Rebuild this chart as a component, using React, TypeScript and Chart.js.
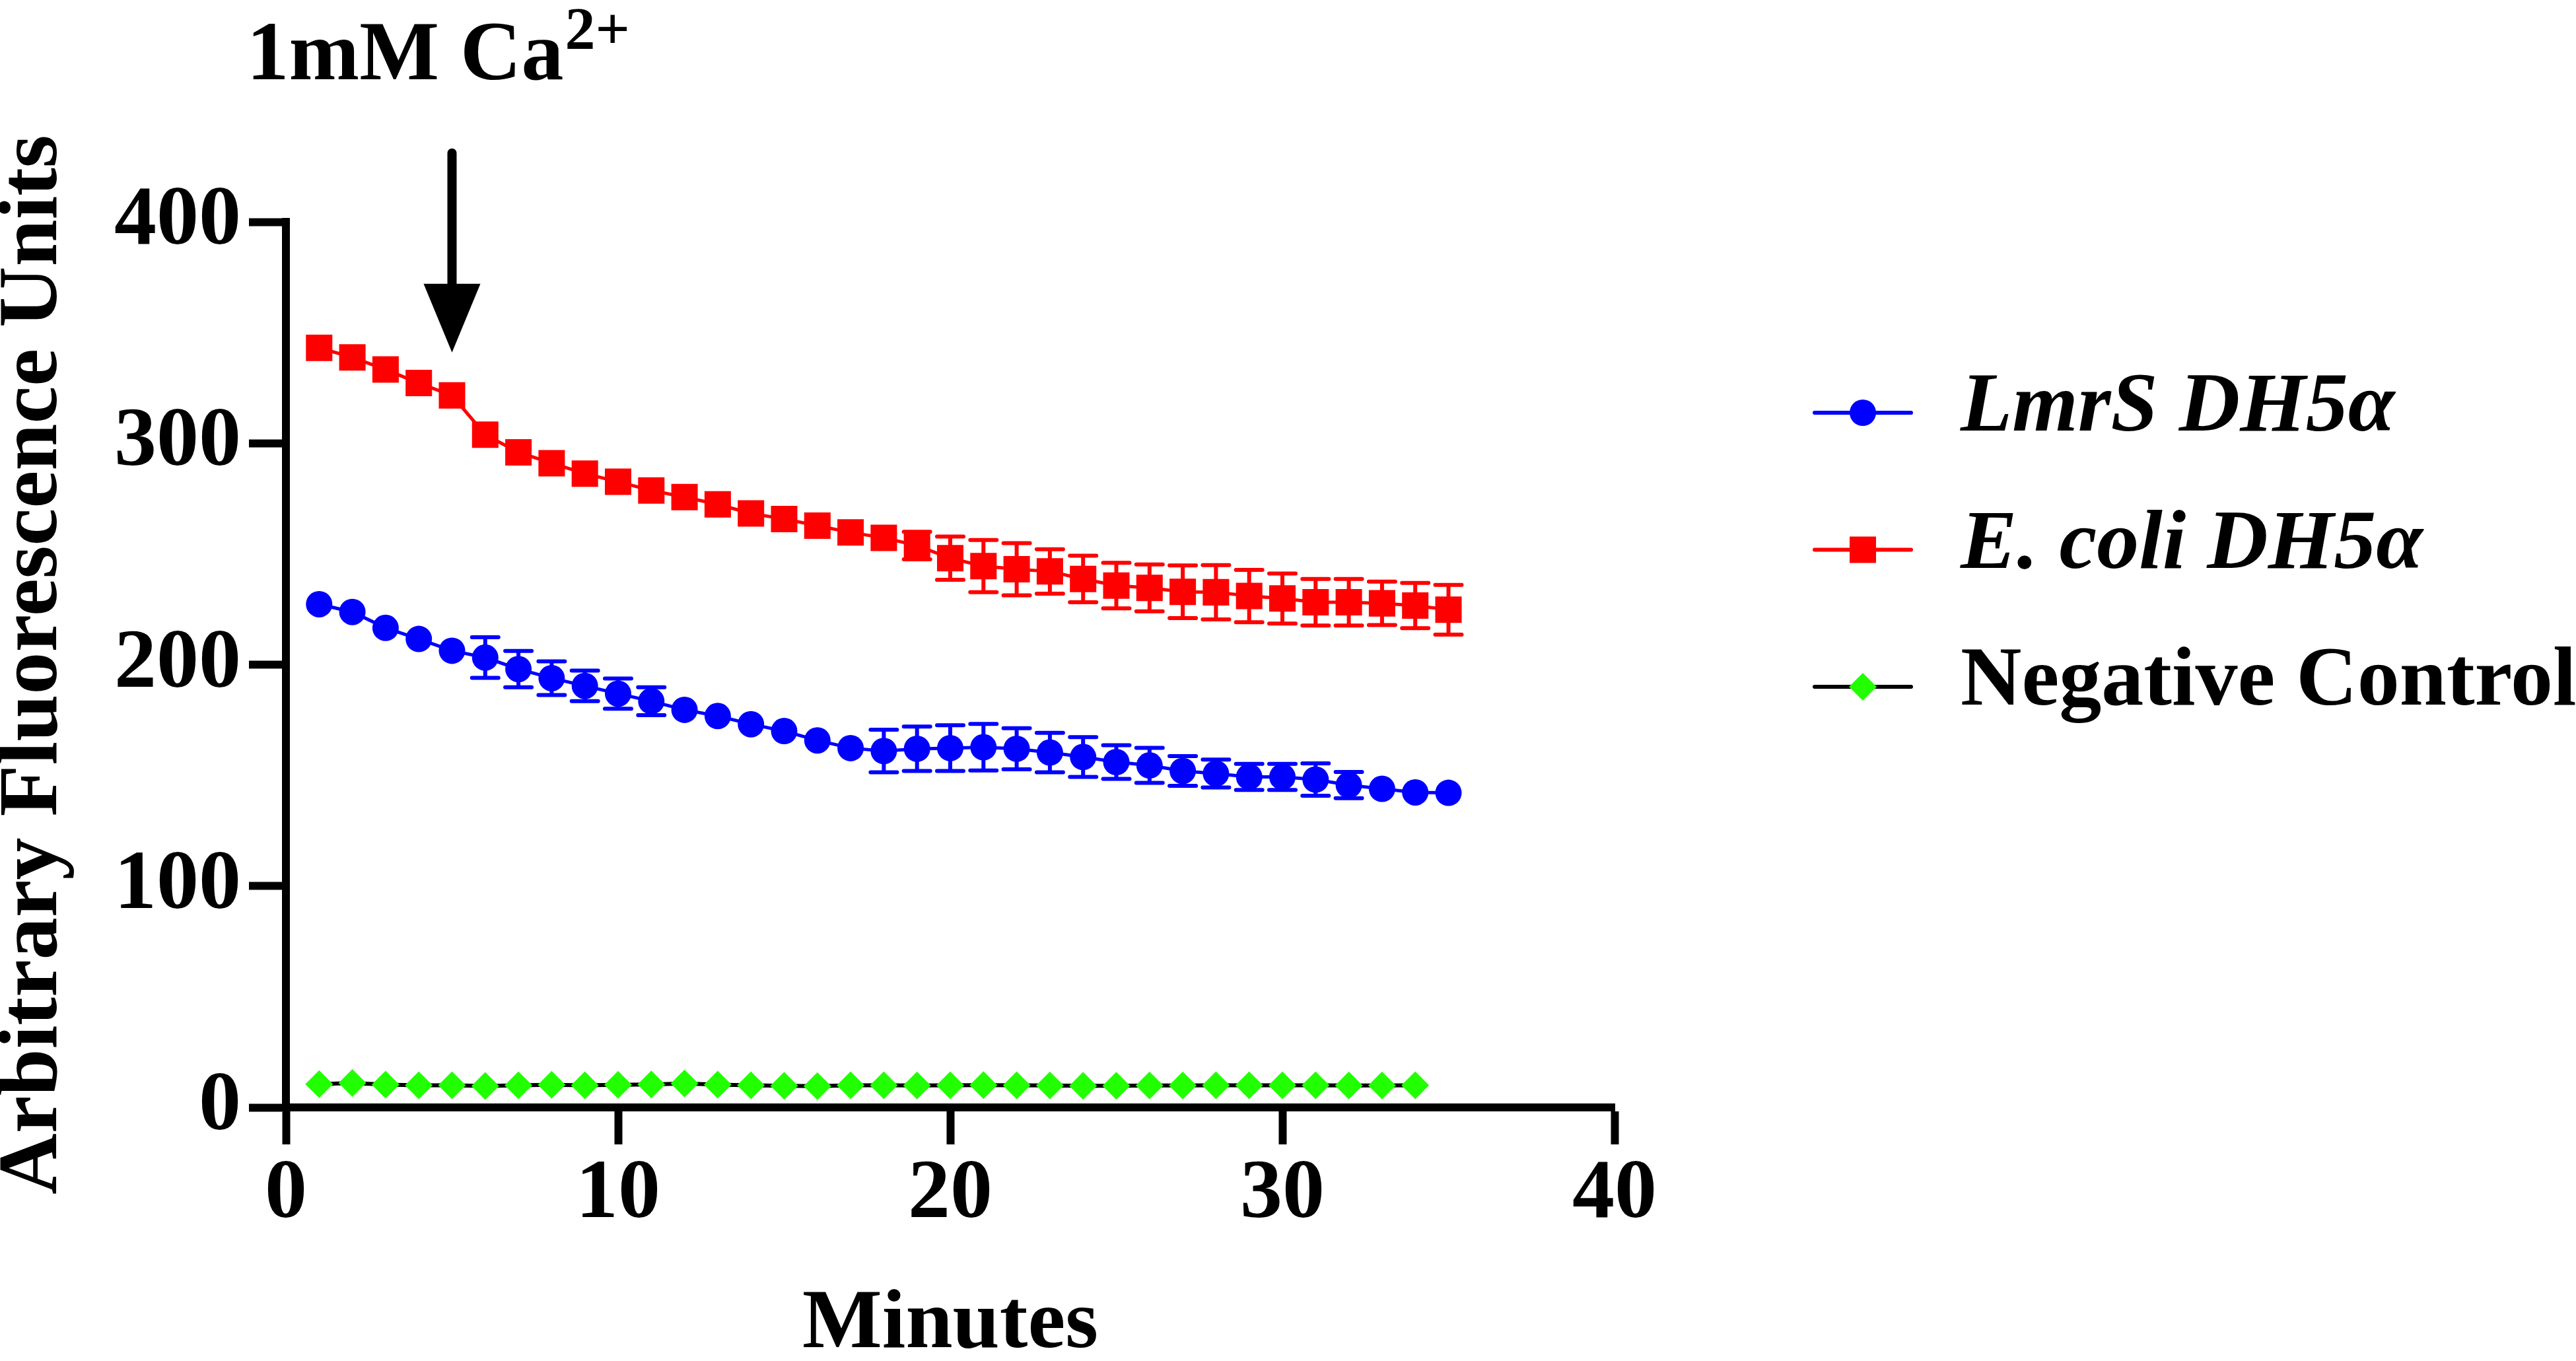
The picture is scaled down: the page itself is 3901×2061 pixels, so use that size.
import React, { useEffect, useRef } from 'react';
import { Chart, registerables } from 'chart.js';
import { drawPoint } from 'chart.js/helpers';

Chart.register(...registerables);

const SERIF = '"Liberation Serif", "Times New Roman", serif';

// minutes after start of the read
const minutes = [
  1, 2, 3, 4, 5, 6, 7, 8, 9, 10, 11, 12, 13, 14, 15, 16, 17, 18,
  19, 20, 21, 22, 23, 24, 25, 26, 27, 28, 29, 30, 31, 32, 33, 34, 35,
];

const lmrsMean = [
  227.3, 223.8, 216.6, 211.6, 206.3, 203.2, 198.0, 193.9, 190.4, 186.9, 183.5, 179.6,
  176.8, 173.1, 170.0, 165.8, 162.3, 161.0, 162.0, 162.3, 162.7, 162.0, 160.3, 158.3,
  156.0, 154.5, 152.0, 150.8, 149.3, 149.3, 148.1, 145.6, 143.9, 142.3, 142.1,
];
// 0 = bar hidden behind the marker
const lmrsErr = [
  0, 0, 0, 0, 0, 9.2, 8.2, 7.6, 6.9, 6.8, 6.3, 0,
  0, 0, 0, 0, 0, 9.6, 10.0, 10.3, 10.5, 9.3, 8.9, 9.0,
  7.6, 7.9, 6.7, 6.3, 5.9, 5.9, 7.3, 5.9, 0, 0, 0,
];

const ecoliMean = [
  343.1, 338.8, 333.3, 327.2, 321.6, 303.9, 295.9, 291.0, 286.3, 282.6, 278.7, 275.7,
  272.4, 268.3, 265.8, 262.8, 259.7, 257.3, 253.8, 248.1, 244.5, 243.1, 242.1, 238.7,
  235.7, 234.7, 232.9, 232.7, 231.0, 229.9, 228.2, 228.2, 227.7, 226.7, 224.8,
];
const ecoliErr = [
  0, 0, 0, 0, 0, 0, 0, 0, 0, 0, 0, 0,
  0, 0, 0, 0, 0, 0, 6.2, 9.8, 11.8, 11.8, 10.0, 10.5,
  10.3, 10.6, 11.9, 12.3, 11.8, 11.3, 10.5, 10.5, 9.8, 10.2, 11.2,
];

// negative control read stops at minute 34
const negMean = [
  10.5, 11.0, 10.3, 10.0, 10.0, 9.7, 10.0, 10.2, 10.0, 10.2, 10.4, 10.8,
  10.3, 10.0, 9.8, 9.6, 10.0, 10.0, 9.9, 10.0, 10.1, 10.0, 9.9, 9.8,
  9.8, 9.9, 9.9, 10.0, 10.0, 10.0, 10.0, 9.9, 9.9, 10.0,
];

const xTicks = [0, 10, 20, 30, 40];
const yTicks = [0, 100, 200, 300, 400];

const CA_ADDED_MIN = 5;
const CA_ARROW_TIP = 341;

const toPoints = (ys: number[]) => ys.map((y, i) => ({ x: minutes[i], y }));

const errorBarPlugin = {
  id: 'errorBars',
  beforeDatasetsDraw(chart: any) {
    const { ctx, scales } = chart;
    chart.data.datasets.forEach((ds: any) => {
      if (!ds.errorBars) return;
      ctx.save();
      ctx.strokeStyle = ds.borderColor;
      ctx.lineWidth = 6;
      ds.data.forEach((p: any, i: number) => {
        const e = ds.errorBars[i];
        if (!e) return;
        const x = scales.x.getPixelForValue(p.x);
        const yTop = scales.y.getPixelForValue(p.y + e);
        const yBot = scales.y.getPixelForValue(p.y - e);
        ctx.lineCap = 'butt';
        ctx.beginPath();
        ctx.moveTo(x, yTop);
        ctx.lineTo(x, yBot);
        ctx.stroke();
        ctx.lineCap = 'round';
        ctx.beginPath();
        ctx.moveTo(x - 20, yTop);
        ctx.lineTo(x + 20, yTop);
        ctx.moveTo(x - 20, yBot);
        ctx.lineTo(x + 20, yBot);
        ctx.stroke();
      });
      ctx.restore();
    });
  },
};

const legendPlugin = {
  id: 'prismLegend',
  afterDraw(chart: any) {
    const { ctx } = chart;
    const x0 = 2748;
    const x1 = 2894;
    const y0 = 625;
    const row = 207.5;
    chart.data.datasets.forEach((ds: any, i: number) => {
      const y = y0 + i * row;
      ctx.save();
      ctx.strokeStyle = ds.borderColor;
      ctx.lineWidth = 6;
      ctx.lineCap = 'round';
      ctx.beginPath();
      ctx.moveTo(x0, y);
      ctx.lineTo(x1, y);
      ctx.stroke();
      ctx.fillStyle = ds.pointBackgroundColor;
      drawPoint(ctx, { pointStyle: ds.pointStyle, radius: ds.pointRadius, rotation: 0, borderWidth: 0 }, (x0 + x1) / 2, y);
      ctx.fillStyle = '#000';
      ctx.font = `${ds.italic ? 'italic ' : ''}bold 128px ${SERIF}`;
      ctx.textAlign = 'left';
      ctx.textBaseline = 'middle';
      ctx.fillText(ds.label, 2969, y - 6);
      ctx.restore();
    });
  },
};

const calciumPlugin = {
  id: 'calciumArrow',
  afterDraw(chart: any) {
    const { ctx, scales } = chart;
    const x = scales.x.getPixelForValue(CA_ADDED_MIN);
    const tip = scales.y.getPixelForValue(CA_ARROW_TIP);
    ctx.save();
    ctx.fillStyle = '#000';
    ctx.strokeStyle = '#000';
    ctx.lineWidth = 14;
    ctx.lineCap = 'round';
    ctx.beginPath();
    ctx.moveTo(x, tip - 302);
    ctx.lineTo(x, tip - 100);
    ctx.stroke();
    ctx.beginPath();
    ctx.moveTo(x - 43, tip - 104);
    ctx.lineTo(x + 43, tip - 104);
    ctx.lineTo(x, tip);
    ctx.closePath();
    ctx.fill();

    ctx.textAlign = 'left';
    ctx.textBaseline = 'alphabetic';
    ctx.font = `bold 128px ${SERIF}`;
    const left = x - 311;
    ctx.fillText('1mM Ca', left, 120);
    const w = ctx.measureText('1mM Ca').width;
    ctx.font = `bold 92px ${SERIF}`;
    ctx.fillText('2+', left + w + 2, 74);
    ctx.restore();
  },
};

const App: React.FC = () => {
  const canvasRef = useRef<HTMLCanvasElement>(null);

  useEffect(() => {
    const ctx = canvasRef.current?.getContext('2d');
    if (!ctx) return;
    const tickFont = { family: SERIF, size: 128, weight: 'bold' as const };
    const titleFont = { family: SERIF, size: 128, weight: 'bold' as const, lineHeight: 0.8 };
    const chart = new Chart(ctx, {
      type: 'line',
      data: {
        datasets: [
          {
            label: 'LmrS DH5α',
            data: toPoints(lmrsMean),
            borderColor: '#0000FF',
            backgroundColor: '#0000FF',
            borderWidth: 5,
            pointStyle: 'circle',
            pointRadius: 20,
            pointHoverRadius: 20,
            pointBackgroundColor: '#0000FF',
            pointBorderWidth: 0,
            errorBars: lmrsErr,
            italic: true,
          } as any,
          {
            label: 'E. coli DH5α',
            data: toPoints(ecoliMean),
            borderColor: '#FF0000',
            backgroundColor: '#FF0000',
            borderWidth: 5,
            pointStyle: 'rect',
            pointRadius: 28.3,
            pointHoverRadius: 28.3,
            pointBackgroundColor: '#FF0000',
            pointBorderWidth: 0,
            errorBars: ecoliErr,
            italic: true,
          } as any,
          {
            label: 'Negative Control',
            data: toPoints(negMean),
            borderColor: '#000000',
            backgroundColor: '#22FF00',
            borderWidth: 6,
            pointStyle: 'rectRot',
            pointRadius: 21,
            pointHoverRadius: 21,
            pointBackgroundColor: '#22FF00',
            pointBorderWidth: 0,
            italic: false,
          } as any,
        ],
      },
      options: {
        animation: false,
        responsive: false,
        devicePixelRatio: 1,
        events: [],
        layout: { padding: { left: 0, top: 336, right: 1456, bottom: 0 } },
        plugins: { legend: { display: false }, tooltip: { enabled: false } },
        elements: { line: { tension: 0 } },
        scales: {
          x: {
            type: 'linear',
            min: 0,
            max: 40,
            afterBuildTicks: (s: any) => { s.ticks = xTicks.map((v) => ({ value: v })); },
            afterFit: (s: any) => { s.height = 384; },
            ticks: { font: tickFont, color: '#000', padding: 0, maxRotation: 0 },
            grid: { drawOnChartArea: false, drawTicks: true, tickLength: 56, tickWidth: 12, color: '#000' },
            border: { display: true, width: 12, color: '#000' },
            title: { display: true, text: 'Minutes', font: titleFont, color: '#000', padding: { top: 0, bottom: 3 } },
          },
          y: {
            type: 'linear',
            min: 0,
            max: 400,
            afterBuildTicks: (s: any) => { s.ticks = yTicks.map((v) => ({ value: v })); },
            afterFit: (s: any) => { s.width = 433; },
            ticks: { font: tickFont, color: '#000', padding: 12 },
            grid: { drawOnChartArea: false, drawTicks: true, tickLength: 56, tickWidth: 12, color: '#000' },
            border: { display: true, width: 12, color: '#000' },
            title: { display: true, text: 'Arbitrary Fluorescence Units', font: titleFont, color: '#000', padding: { top: 1, bottom: 0 } },
          },
        },
      },
      plugins: [errorBarPlugin, legendPlugin, calciumPlugin],
    });
    return () => chart.destroy();
  }, []);

  return (
    <div style={{ position: 'fixed', left: 0, top: 0, width: 3901, height: 2061, background: '#fff' }}>
      <canvas ref={canvasRef} width={3901} height={2061} style={{ display: 'block' }} />
    </div>
  );
};

export default App;
